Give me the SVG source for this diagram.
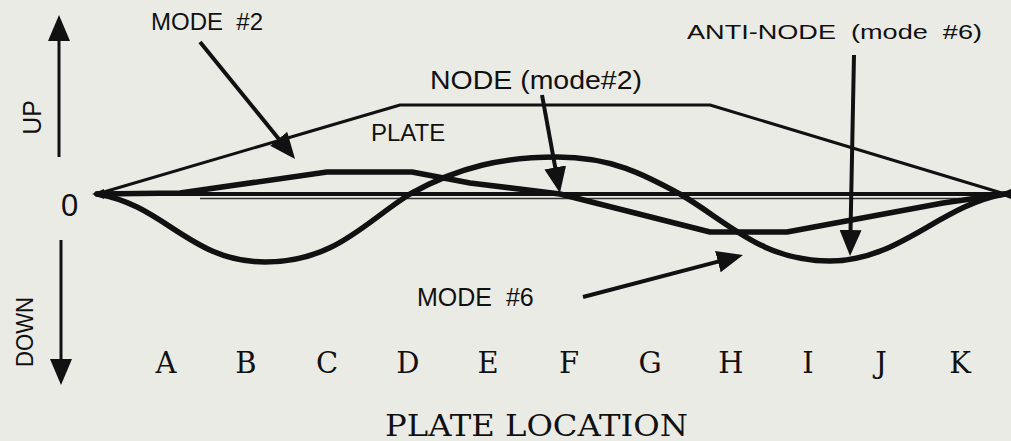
<svg xmlns="http://www.w3.org/2000/svg" width="1011" height="441" viewBox="0 0 1011 441">
<defs>
<style>
.bg{fill:#ebebe5}
.sans{font-family:"Liberation Sans",Arial,sans-serif;fill:#111}
.serif{font-family:"DejaVu Serif","Liberation Serif",serif;fill:#111}
.plate{fill:none;stroke:#111;stroke-width:3;stroke-linejoin:round}
.mode{fill:none;stroke:#111;stroke-width:5.5;stroke-linejoin:round;stroke-linecap:round}
.arrow{fill:none;stroke:#111;stroke-width:4;marker-end:url(#ah)}
.axis{fill:none;stroke:#111;stroke-width:3;marker-end:url(#ah)}
</style>
<marker id="ah" viewBox="0 0 26 22" refX="8" refY="11" markerWidth="26" markerHeight="22" markerUnits="userSpaceOnUse" orient="auto">
<path d="M0,0 L26,11 L0,22 z" fill="#111"/>
</marker>
</defs>
<rect class="bg" x="0" y="0" width="1011" height="441"/>

<g id="axis-up">
<line class="axis" x1="59" y1="157" x2="59" y2="33"/>
<text class="sans" font-size="25" text-anchor="middle" transform="translate(41,117.5) rotate(-90)">UP</text>
</g>
<g id="axis-down">
<line class="axis" x1="61" y1="240" x2="61" y2="367"/>
<text class="sans" font-size="24" text-anchor="middle" textLength="70" lengthAdjust="spacingAndGlyphs" transform="translate(33,332) rotate(-90)">DOWN</text>
</g>
<g id="zero">
<text class="sans" x="61" y="216" font-size="31">0</text>
</g>

<g id="baseline">
<line x1="97" y1="194" x2="1005" y2="194" stroke="#111" stroke-width="4"/>
<line x1="200" y1="198.5" x2="960" y2="198.5" stroke="#333" stroke-width="1.5"/>
<path d="M92,194 L104,189 L104,199 z M1011,189 L1011,199 L998,194 z" fill="#111"/>
</g>

<g id="plate">
<polyline class="plate" points="97,194 400,105 710,105 1005,194"/>
<text class="sans" x="371" y="141" font-size="24">PLATE</text>
</g>

<g id="mode2">
<polyline class="mode" points="97,194 180,193 327,172 412,172 470,183 560,194 710,232 787,232 943,203 1005,194"/>
</g>

<g id="mode6">
<path class="mode" d="M97,194 C165,205 190,262 265,262 C335,262 365,222 410,194 C460,166 505,157 557,157 C612,157 645,175 680,194 C728,222 762,261 830,261 C900,261 940,205 1005,194"/>
</g>

<g id="letters" class="serif" font-size="29" text-anchor="middle">
<text x="166" y="373">A</text>
<text x="246" y="373">B</text>
<text x="327" y="373">C</text>
<text x="408" y="373">D</text>
<text x="488" y="373">E</text>
<text x="569" y="373">F</text>
<text x="650" y="373">G</text>
<text x="731" y="373">H</text>
<text x="808" y="373">I</text>
<text x="881" y="373">J</text>
<text x="960" y="373">K</text>
</g>
<g id="xlabel">
<text class="serif" x="385" y="436" font-size="29" textLength="303" lengthAdjust="spacingAndGlyphs">PLATE LOCATION</text>
</g>

<g id="label-mode2">
<text class="sans" x="151" y="30" font-size="24" xml:space="preserve">MODE  #2</text>
</g>
<g id="label-node">
<text class="sans" x="430" y="89" font-size="25" textLength="212" lengthAdjust="spacingAndGlyphs" xml:space="preserve">NODE (mode#2)</text>
</g>
<g id="label-antinode">
<text class="sans" x="687" y="39" font-size="21" textLength="295" lengthAdjust="spacingAndGlyphs" xml:space="preserve">ANTI-NODE  (mode  #6)</text>
</g>
<g id="label-mode6">
<text class="sans" x="417" y="306" font-size="25" xml:space="preserve">MODE  #6</text>
</g>

<g id="connectors">
<line class="arrow" x1="200" y1="42" x2="283.7" y2="145"/>
<line class="arrow" x1="542" y1="95" x2="556.7" y2="175.3"/>
<line class="arrow" x1="854" y1="55" x2="850.4" y2="238"/>
<line class="arrow" x1="583" y1="297" x2="725.6" y2="259.6"/>
</g>
</svg>
